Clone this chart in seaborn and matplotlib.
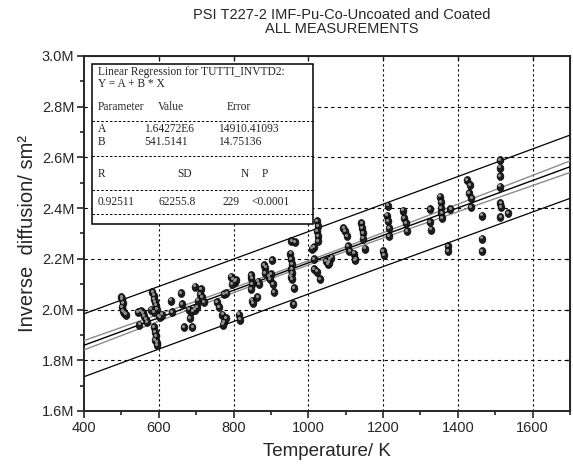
import numpy as np
import pandas as pd
import matplotlib
matplotlib.use("Agg")
import matplotlib.pyplot as plt
import seaborn as sns
from matplotlib.ticker import MultipleLocator, FuncFormatter
from matplotlib.patches import Rectangle
from matplotlib.path import Path
from matplotlib.transforms import Affine2D, ScaledTranslation

# measured points: temperature (K) and inverse diffusion (in millions s/m^2)
temps = [500, 502, 503, 501, 504, 508, 512,
         548, 553, 557, 560, 565, 568, 545,
         583, 586, 588, 590, 592, 594, 588, 580,
         586, 590, 592, 589, 594, 596,
         600, 604, 608, 633, 636, 660, 662,
         668, 690, 684, 681, 690, 697, 703,
         697, 712, 709, 705, 720, 715,
         756, 760, 770, 774, 780, 772, 775, 781,
         794, 798, 803, 807, 796, 815, 817,
         847, 848, 849, 847, 850, 852, 865, 868, 864,
         882, 885, 884, 895, 899, 897, 903, 905, 907,
         952, 954, 956, 955, 957, 953, 956, 955, 965, 962, 960,
         1016, 1024, 1025, 1024, 1026, 1025,
         1010, 1014, 1014, 1022, 1030,
         1048, 1052, 1058, 1062, 1056,
         1094, 1098, 1104, 1105, 1110, 1122, 1126, 1124,
         1142, 1143, 1145, 1146, 1152,
         1212, 1210, 1213, 1215, 1215, 1200, 1203,
         1252, 1256, 1260, 1264,
         1326, 1326, 1327,
         1352, 1355, 1355, 1356, 1357, 1380, 1374, 1374,
         1425, 1432, 1430, 1436, 1434,
         1465, 1465, 1465,
         1513, 1513, 1513, 1513, 1514, 1515, 1514, 1533]
inv_diff = [2.05, 2.04, 2.025, 2.01, 1.995, 1.985, 1.98,
            1.94, 1.995, 1.985, 1.975, 1.96, 1.95, 1.99,
            2.07, 2.055, 2.04, 2.03, 2.015, 2.0, 1.99, 2.0,
            1.93, 1.91, 1.895, 1.88, 1.87, 1.86,
            1.975, 1.97, 1.98, 2.035, 1.99, 2.065, 2.02,
            1.93, 1.93, 1.965, 2.0, 1.995, 2.0, 2.01,
            2.09, 2.08, 2.06, 2.035, 2.03, 2.05,
            2.03, 2.01, 1.98, 1.95, 1.965, 1.94, 2.06, 2.065,
            2.13, 2.12, 2.11, 2.115, 2.1, 1.98, 1.96,
            2.135, 2.125, 2.1, 2.08, 2.035, 2.025, 2.11, 2.1, 2.05,
            2.175, 2.165, 2.145, 2.13, 2.14, 2.12, 2.195, 2.1, 2.07,
            2.22, 2.2, 2.18, 2.16, 2.145, 2.13, 2.12, 2.27, 2.265, 2.085, 2.02,
            2.245, 2.35, 2.33, 2.31, 2.29, 2.27,
            2.24, 2.2, 2.16, 2.15, 2.12,
            2.19, 2.18, 2.2, 2.205, 2.185,
            2.32, 2.31, 2.29, 2.25, 2.23, 2.22, 2.2, 2.195,
            2.34, 2.32, 2.3, 2.28, 2.24,
            2.41, 2.37, 2.35, 2.32, 2.29, 2.23, 2.215,
            2.39, 2.36, 2.34, 2.31,
            2.395, 2.345, 2.315,
            2.445, 2.425, 2.40, 2.38, 2.36, 2.395, 2.25, 2.23,
            2.51, 2.49, 2.46, 2.44, 2.405,
            2.37, 2.28, 2.23,
            2.59, 2.56, 2.525, 2.485, 2.42, 2.405, 2.365, 2.38]

# regression results printed in the box
fit_a = 1.64272e6
fit_b = 541.5141
err_a = 14910.41093
err_b = 14.75136
fit_r = 0.92511
fit_sd = 62255.8
fit_n = 229
t_val = 1.9705

x_ticks = [400, 600, 800, 1000, 1200, 1400, 1600]
y_ticks = [1.6e6, 1.8e6, 2.0e6, 2.2e6, 2.4e6, 2.6e6, 2.8e6, 3.0e6]

df = pd.DataFrame({"T": temps, "Y": np.array(inv_diff) * 1e6})

# bands from the fit statistics
sxx = (fit_sd / err_b) ** 2
xbar = np.sqrt(((err_a / fit_sd) ** 2 - 1.0 / fit_n) * sxx)
xs = np.linspace(400, 1700, 200)
yfit = fit_a + fit_b * xs
se_mean = fit_sd * np.sqrt(1.0 / fit_n + (xs - xbar) ** 2 / sxx)
se_pred = fit_sd * np.sqrt(1.0 + 1.0 / fit_n + (xs - xbar) ** 2 / sxx)
lines = pd.DataFrame({"x": xs, "fit": yfit,
                      "cl": yfit - t_val * se_mean, "cu": yfit + t_val * se_mean,
                      "pl": yfit - t_val * se_pred, "pu": yfit + t_val * se_pred})

sns.set_style("ticks")
plt.rcParams["font.family"] = ["Liberation Sans", "DejaVu Sans"]

fig = plt.figure(figsize=(5.73, 4.67), dpi=100)
ax = fig.add_axes([84 / 573, 56 / 467, 486 / 573, 355 / 467])

for col in ["cl", "cu"]:
    sns.lineplot(data=lines, x="x", y=col, ax=ax, color="#8c8c8c", lw=1.0, zorder=3)
sns.lineplot(data=lines, x="x", y="fit", ax=ax, color="black", lw=1.0, zorder=3)
for col in ["pl", "pu"]:
    sns.lineplot(data=lines, x="x", y=col, ax=ax, color="black", lw=0.9, zorder=3)

# slightly tall ellipse, like the shaded balls of the original
ball = Path.unit_circle().transformed(Affine2D().scale(0.85, 1.0))
sns.scatterplot(data=df, x="T", y="Y", ax=ax, s=34, color="#1c1c1c", marker=ball,
                edgecolor="black", linewidth=0.4, zorder=4)
hl = ax.transData + ScaledTranslation(-0.8 / 100, 1.3 / 100, fig.dpi_scale_trans)
ax.scatter(df["T"], df["Y"], s=5, color="#8f8f8f", linewidths=0, transform=hl, zorder=5)

ax.set_xlim(400, 1700)
ax.set_ylim(1.6e6, 3.0e6)
ax.set_xticks(x_ticks)
ax.set_yticks(y_ticks)
ax.xaxis.set_minor_locator(MultipleLocator(100))
ax.yaxis.set_minor_locator(MultipleLocator(1e5))
ax.yaxis.set_major_formatter(FuncFormatter(lambda v, p: f"{v / 1e6:.1f}M"))
ax.tick_params(which="major", direction="out", length=5, width=1.2, labelsize=10.5, pad=2)
ax.tick_params(which="minor", direction="out", length=3, width=1.2)

for y in y_ticks[1:-1]:
    ax.axhline(y, color="black", lw=0.8, ls=(0, (3, 3)), zorder=1)
for x in x_ticks[1:]:
    ax.axvline(x, color="black", lw=0.8, ls=(0, (2, 2.5)), zorder=1)

for s in ax.spines.values():
    s.set_linewidth(1.4)
    s.set_visible(True)

top = ax.secondary_xaxis("top")
top.set_xticks(x_ticks[1:])
top.tick_params(direction="in", length=3, width=1.0, labeltop=False)
right = ax.secondary_yaxis("right")
right.set_yticks(y_ticks[1:-1])
right.tick_params(direction="in", length=3, width=1.0, labelright=False)

ax.set_xlabel("Temperature/ K", fontsize=13.5, labelpad=6)
ax.set_ylabel("Inverse  diffusion/ sm²", fontsize=14.5, labelpad=3)

fig.text(0.597, 1 - 22 / 467, "PSI T227-2 IMF-Pu-Co-Uncoated and Coated\nALL MEASUREMENTS",
         ha="center", va="center", fontsize=10.5, linespacing=1.05)

# regression summary box
bx0, bx1 = 0.0165, 0.471
by0, by1 = 0.527, 0.977
ax.add_patch(Rectangle((bx0, by0), bx1 - bx0, by1 - by0, transform=ax.transAxes,
                       facecolor="white", edgecolor="black", lw=1.1, zorder=10))


def fy(py):
    return (411 - py) / 355


for py in [121, 156, 189.5, 214]:
    ax.plot([bx0, bx1], [fy(py), fy(py)], transform=ax.transAxes, color="black",
            lw=0.7, ls=(0, (2.5, 2)), zorder=11)

serif = ["Liberation Serif", "DejaVu Serif"]
rows = [
    (0.029, 72, "Linear Regression for TUTTI_INVTD2:"),
    (0.029, 84, "Y = A + B * X"),
    (0.029, 107, "Parameter"), (0.153, 107, "Value"), (0.294, 107, "Error"),
    (0.029, 129.5, "A"), (0.123, 129.5, f"{fit_a / 1e6:.5f}E6"), (0.276, 129.5, f"{err_a:.5f}"),
    (0.029, 142, "B"), (0.123, 142, f"{fit_b:.4f}"), (0.276, 142, f"{err_b:.5f}"),
    (0.029, 174, "R"), (0.191, 174, "SD"), (0.323, 174, "N"), (0.366, 174, "P"),
    (0.029, 202, f"{fit_r:.5f}"), (0.154, 202, f"{fit_sd:.1f}"),
    (0.284, 202, f"{fit_n}"), (0.344, 202, "<0.0001"),
]
for x, py, s in rows:
    ax.text(x, fy(py), s, transform=ax.transAxes, ha="left", va="center",
            fontsize=8.3, family=serif, zorder=12)

fig.savefig("out.png", dpi=100)
